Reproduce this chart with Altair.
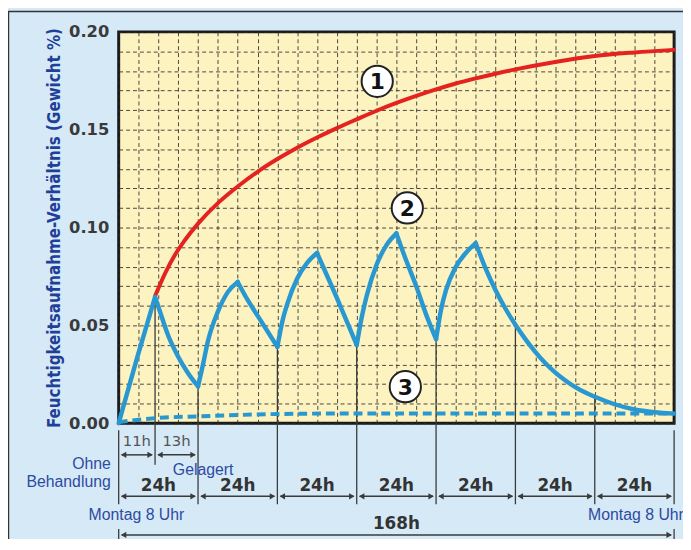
import altair as alt
import pandas as pd

# ---------------- data ----------------
# Curve 1 (red): untreated, continuous exposure
red_hours = [11, 14, 17, 20, 24, 30, 36, 42, 48, 54, 60, 66, 72, 78, 84, 90, 96,
             102, 108, 114, 120, 132, 144, 156, 168]
red_values = [0.065, 0.0765, 0.0860, 0.0935, 0.1020, 0.1125, 0.1210, 0.1285, 0.1350,
              0.1408, 0.1460, 0.1508, 0.1553, 0.1597, 0.1637, 0.1673, 0.1706, 0.1736,
              0.1762, 0.1786, 0.1808, 0.1846, 0.1877, 0.1895, 0.1908]

# Curve 2 (blue, solid): daily cycle
blue_hours = [0, 5.5, 11, 12.5, 15, 18, 21, 24, 25.5, 27, 30, 33, 36, 39, 42, 45, 48,
              49.5, 51, 54, 57, 60, 63, 66, 69, 72, 73.5, 75, 78, 81, 84, 87, 90, 93, 96,
              97.5, 99, 102, 105, 108, 111, 114, 117, 120, 123, 126, 129, 132, 135, 138,
              141, 144, 150, 156, 162, 168]
blue_values = [0.000, 0.033, 0.0645, 0.057, 0.0447, 0.034, 0.0255, 0.0188, 0.030, 0.042,
               0.057, 0.067, 0.0722, 0.063, 0.055, 0.047, 0.039, 0.052, 0.061, 0.074,
               0.082, 0.087, 0.0755, 0.064, 0.052, 0.040, 0.054, 0.065, 0.081, 0.091,
               0.097, 0.083, 0.070, 0.0555, 0.043, 0.058, 0.068, 0.080, 0.087, 0.092,
               0.079, 0.068, 0.0585, 0.0503, 0.043, 0.0365, 0.0308, 0.0260, 0.0220, 0.0186,
               0.0158, 0.0135, 0.0097, 0.0070, 0.0056, 0.0049]
blue_turns = [0, 11, 24, 36, 48, 60, 72, 84, 96, 108, 168]

# Curve 3 (blue, dashed)
dash_hours = [0, 6, 12, 24, 36, 48, 72, 96, 168]
dash_values = [0.0005, 0.0018, 0.0027, 0.0035, 0.0042, 0.0047, 0.005, 0.005, 0.005]

# Circled curve numbers
mark_labels = ["1", "2", "3"]
mark_hours = [78.2, 87.3, 86.7]
mark_values = [0.1747, 0.110, 0.0187]

# Time annotations
phase_start = [0, 11]
phase_end = [11, 24]
phase_labels = ["11h", "13h"]
day_marks = [0, 24, 48, 72, 96, 120, 144, 168]
first_mark = [11]
inner_marks = [24, 48, 72, 96, 120, 144]
total_label = "168h"

y_ticks = [i / 100 for i in range(21)]
x_grid = list(range(0, 169, 6))

# ---------------- frames ----------------
red_df = pd.DataFrame({"h": red_hours, "v": red_values})
rows = []
for i in range(len(blue_turns) - 1):
    a, b = blue_turns[i], blue_turns[i + 1]
    for h, v in zip(blue_hours, blue_values):
        if a <= h <= b:
            rows.append({"h": h, "v": v, "seg": i})
blue_df = pd.DataFrame(rows)
dash_df = pd.DataFrame({"h": dash_hours, "v": dash_values})
marks_df = pd.DataFrame({"h": mark_hours, "v": mark_values, "t": mark_labels})

blue_lookup = dict(zip(blue_hours, blue_values))
first_df = pd.DataFrame({"h": first_mark, "v": [blue_lookup[h] for h in first_mark]})
inner_df = pd.DataFrame({"h": inner_marks, "v": [blue_lookup[h] for h in inner_marks]})
phase_df = pd.DataFrame({"a": phase_start, "b": phase_end, "t": phase_labels})
day_df = pd.DataFrame({"a": day_marks[:-1], "b": day_marks[1:], "t": ["24h"] * 7})
total_df = pd.DataFrame({"a": [day_marks[0]], "b": [day_marks[-1]], "t": [total_label]})
outer_df = pd.DataFrame({"h": [day_marks[0], day_marks[-1]]})

# ---------------- scales / axes ----------------
x_scale = alt.Scale(domain=[0, 168], nice=False, zero=False)
y_scale = alt.Scale(domain=[0, 0.2], nice=False)
x_axis = alt.Axis(values=x_grid, labels=False, ticks=False, domain=False,
                  title=None, grid=True)
y_axis = alt.Axis(values=y_ticks, ticks=False, domain=False, grid=True,
                  labelExpr="round(datum.value*100) % 5 == 0 ? format(datum.value, '.2f') : ''",
                  labelFont="DejaVu Sans", labelFontWeight="bold", labelFontSize=16.5,
                  labelColor="#3a3a3a", labelPadding=10, labelOverlap=False,
                  title="Feuchtigkeitsaufnahme-Verhältnis (Gewicht %)",
                  titleFont="DejaVu Sans Condensed, Liberation Sans, sans-serif",
                  titleFontWeight="bold",
                  titleFontSize=17, titleColor="#1f3f98", titleAngle=-90,
                  titleX=-65, titleY=198, titleAlign="center",
                  titleBaseline="middle")


def xe(f):
    return alt.X(f, scale=x_scale, axis=x_axis)


def ye(f):
    return alt.Y(f, scale=y_scale, axis=y_axis)


line_col = "#3a3a3a"

# boundary lines
first_rule = alt.Chart(first_df).mark_rule(color=line_col, strokeWidth=1.3).encode(
    x=xe("h:Q"), y=ye("v:Q"), y2=alt.value(438))
inner_rules = alt.Chart(inner_df).mark_rule(color=line_col, strokeWidth=1.3).encode(
    x=xe("h:Q"), y=ye("v:Q"), y2=alt.value(478))
outer_top = alt.Chart(outer_df).mark_rule(color=line_col, strokeWidth=1.3).encode(
    x=xe("h:Q"), y=alt.value(403), y2=alt.value(478))
outer_bot = alt.Chart(outer_df).mark_rule(color=line_col, strokeWidth=1.3).encode(
    x=xe("h:Q"), y=alt.value(503), y2=alt.value(520))

# curves
red = alt.Chart(red_df).mark_line(color="#e42320", strokeWidth=4, interpolate="monotone",
                                  strokeCap="round").encode(x=xe("h:Q"), y=ye("v:Q"))
blue = alt.Chart(blue_df).mark_line(color="#2a98d0", strokeWidth=4.5, interpolate="monotone",
                                    strokeCap="round", strokeJoin="round").encode(
    x=xe("h:Q"), y=ye("v:Q"), detail="seg:N")
dashed = alt.Chart(dash_df).mark_line(color="#2a98d0", strokeWidth=4, strokeDash=[9, 5],
                                      interpolate="monotone").encode(
    x=xe("h:Q"), y=ye("v:Q"))

circles = alt.Chart(marks_df).mark_point(shape="circle", filled=True, fill="white",
                                         stroke="#222", strokeWidth=2, size=1000,
                                         opacity=1).encode(x=xe("h:Q"), y=ye("v:Q"))
circle_txt = alt.Chart(marks_df).mark_text(font="DejaVu Sans", fontWeight="bold",
                                           fontSize=22, color="#111", dy=1).encode(
    x=xe("h:Q"), y=ye("v:Q"), text="t:N")


def arrows(df, y_line, y_text, font_size, weight, color):
    shaft = alt.Chart(df).mark_rule(color=line_col, strokeWidth=1.5, xOffset=3,
                                    x2Offset=-3).encode(
        x=xe("a:Q"), x2="b:Q", y=alt.value(y_line))
    lh = alt.Chart(df).mark_point(shape="triangle-left", filled=True, color=line_col,
                                  size=40, opacity=1, xOffset=5).encode(
        x=xe("a:Q"), y=alt.value(y_line))
    rh = alt.Chart(df).mark_point(shape="triangle-right", filled=True, color=line_col,
                                  size=40, opacity=1, xOffset=-5).encode(
        x=xe("b:Q"), y=alt.value(y_line))
    txt = alt.Chart(df).transform_calculate(m="(datum.a + datum.b) / 2").mark_text(
        font="DejaVu Sans", fontSize=font_size, fontWeight=weight, color=color,
        baseline="middle").encode(x=xe("m:Q"), y=alt.value(y_text), text="t:N")
    return [shaft, lh, rh, txt]


blue_txt = "#2d4ba0"


def note(text, hour, ypix, align, dx):
    df = pd.DataFrame({"h": [hour]})
    return alt.Chart(df).mark_text(text=text, font="Liberation Sans", fontSize=16,
                                   color=blue_txt, align=align, dx=dx,
                                   baseline="middle").encode(
        x=xe("h:Q"), y=alt.value(ypix))


ohne = note("Ohne", day_marks[0], 437, "right", -8)
behand = note("Behandlung", day_marks[0], 456, "right", -8)
gelagert = note("Gelagert", phase_end[0], 443, "left", 18)
montag_l = note("Montag 8 Uhr", day_marks[0], 489, "center", 18)
montag_r = note("Montag 8 Uhr", day_marks[-1], 489, "left", -87)

one = pd.DataFrame({"k": [0]})
frame_left = alt.Chart(one).mark_rule(color="#333", strokeWidth=1.5).encode(
    x=alt.value(-111.5), y=alt.value(-21), y2=alt.value(530))
frame_top = alt.Chart(one).mark_rule(color="#333", strokeWidth=1.5).encode(
    x=alt.value(-112), x2=alt.value(575), y=alt.value(-20.5))

layers = [red, first_rule, inner_rules, outer_top, outer_bot, blue, dashed, circles, circle_txt]
layers += arrows(phase_df, 428, 414, 15, "normal", "#555")
layers += arrows(day_df, 470, 460, 17, "bold", "#333")
layers += arrows(total_df, 509, 498, 17, "bold", "#333")
layers += [ohne, behand, gelagert, montag_l, montag_r, frame_left, frame_top]

chart = alt.layer(*layers).properties(
    width=562, height=396,
    autosize=alt.AutoSizeParams(type="none"),
    padding={"left": 112, "top": 21, "right": 9, "bottom": 114},
    background="#d6e9f7",
).configure_view(
    fill="#fdf3c0", stroke="#1a1a1a", strokeWidth=3
).configure_axis(
    gridColor="#2a2a2a", gridDash=[4, 3], gridWidth=1, gridOpacity=0.85
)

chart.save("out.html", embed_options={"renderer": "svg", "actions": False})
